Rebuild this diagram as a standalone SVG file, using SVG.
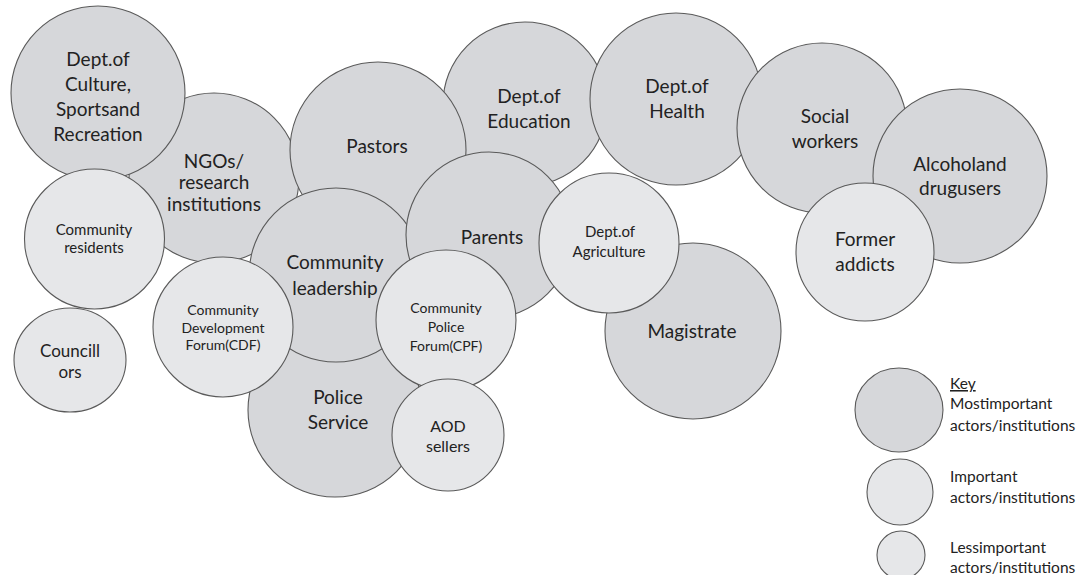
<svg xmlns="http://www.w3.org/2000/svg" width="1080" height="575" viewBox="0 0 1080 575">
<style>
.d{fill:#d6d7da;stroke:#5a5a5a;stroke-width:1.1}
.l{fill:#e6e7e9;stroke:#5a5a5a;stroke-width:1.1}
text{font-family:Lato,"Open Sans","Liberation Sans",sans-serif;fill:#222;text-anchor:middle}
.t19{font-size:19px}.t16{font-size:16px}.t15{font-size:15px}.t14{font-size:14px}.t17{font-size:17px}
.k{font-size:15.5px;text-anchor:start}
</style>
<rect width="1080" height="575" fill="#fff"/>
<g id="ngos"><circle class="d" cx="214" cy="178" r="85"/><text class="t19" x="214" y="168">NGOs/</text><text class="t19" x="214" y="189">research</text><text class="t19" x="214" y="211">institutions</text></g>
<g id="culture"><circle class="d" cx="98" cy="93" r="87"/><text class="t19" x="98" y="66">Dept.of</text><text class="t19" x="98" y="91">Culture,</text><text class="t19" x="98" y="116">Sportsand</text><text class="t19" x="98" y="141">Recreation</text></g>
<g id="residents"><circle class="l" cx="94.5" cy="239" r="70"/><text class="t15" x="94" y="235">Community</text><text class="t15" x="94" y="253">residents</text></g>
<g id="education"><circle class="d" cx="525" cy="104" r="82"/><text class="t19" x="529" y="103">Dept.of</text><text class="t19" x="529" y="128">Education</text></g>
<g id="pastors"><circle class="d" cx="378" cy="150" r="88"/><text class="t19" x="377" y="153">Pastors</text></g>
<g id="health"><circle class="d" cx="676" cy="99" r="86"/><text class="t19" x="677" y="93">Dept.of</text><text class="t19" x="677" y="118">Health</text></g>
<g id="social"><circle class="d" cx="822" cy="128" r="85"/><text class="t19" x="825" y="123">Social</text><text class="t19" x="825" y="148">workers</text></g>
<g id="alcohol"><circle class="d" cx="960" cy="176" r="87"/><text class="t19" x="960" y="171">Alcoholand</text><text class="t19" x="960" y="195">drugusers</text></g>
<g id="former"><circle class="l" cx="865" cy="252" r="69"/><text class="t19" x="865" y="246">Former</text><text class="t19" x="865" y="271">addicts</text></g>
<g id="police"><circle class="d" cx="335" cy="410" r="87"/><text class="t19" x="338" y="404">Police</text><text class="t19" x="338" y="429">Service</text></g>
<g id="leadership"><circle class="d" cx="336" cy="275" r="87"/><text class="t19" x="335" y="269">Community</text><text class="t19" x="335" y="295">leadership</text></g>
<g id="parents"><circle class="d" cx="489" cy="235" r="83"/><text class="t19" x="492" y="244">Parents</text></g>
<g id="magistrate"><circle class="d" cx="693" cy="331" r="88"/><text class="t19" x="692" y="338">Magistrate</text></g>
<g id="agriculture"><circle class="l" cx="609" cy="243" r="70"/><text class="t15" x="610" y="237">Dept.of</text><text class="t15" x="609" y="257">Agriculture</text></g>
<g id="cdf"><circle class="l" cx="223" cy="327" r="70"/><text class="t14" x="223" y="315">Community</text><text class="t14" x="223" y="333">Development</text><text class="t14" x="223" y="350">Forum(CDF)</text></g>
<g id="cpf"><circle class="l" cx="446" cy="320" r="70"/><text class="t14" x="446" y="313">Community</text><text class="t14" x="446" y="332">Police</text><text class="t14" x="446" y="351">Forum(CPF)</text></g>
<g id="aod"><circle class="l" cx="448" cy="435" r="56"/><text class="t16" x="448" y="432">AOD</text><text class="t16" x="448" y="452">sellers</text></g>
<g id="councillors"><ellipse class="l" cx="70" cy="360" rx="56" ry="52"/><text class="t17" x="70" y="357">Councill</text><text class="t17" x="70" y="378">ors</text></g>
<g id="connectors"></g>
<g id="legend">
<ellipse class="d" cx="899" cy="410" rx="44" ry="42"/>
<circle class="l" cx="900" cy="492" r="33"/>
<circle class="l" cx="901" cy="555" r="24"/>
<text class="k" x="950" y="389" text-decoration="underline">Key</text>
<text class="k" x="950" y="409">Mostimportant</text>
<text class="k" x="950" y="431">actors/institutions</text>
<text class="k" x="950" y="482">Important</text>
<text class="k" x="950" y="503">actors/institutions</text>
<text class="k" x="950" y="553">Lessimportant</text>
<text class="k" x="950" y="573">actors/institutions</text>
</g>
</svg>
